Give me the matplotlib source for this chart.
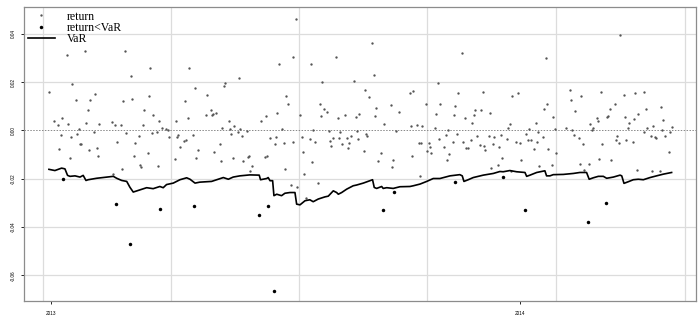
import numpy as np
import matplotlib
matplotlib.use("Agg")
import matplotlib.pyplot as plt
from matplotlib.lines import Line2D

plt.rcParams["axes.unicode_minus"] = False

# x axis is trading-day number (0 = first observation, 2012-12-31)
year_ticks = [1, 253]
year_labels = ["2013", "2014"]
vgrid_days = [-3.2, 65.6, 134.3, 203.1, 272.4, 341.8]
y_ticks = [-0.06, -0.04, -0.02, 0.00, 0.02, 0.04]
y_labels = ["-0.06", "-0.04", "-0.02", "0.00", "0.02", "0.04"]

# daily returns (percent)
ret_day = [
    0.0, 9.5, 19.3, 40.7, 12.4, 54.5, 44.2, 24.7, 14.5, 22.2, 39.9, 44.8, 53.9, 20.8, 51.2, 55.9,
    2.7, 7.0, 5.0, 10.4, 19.9, 26.9, 33.9, 35.5, 38.7, 50.3, 59.3, 16.1, 60.9, 62.9, 63.9, 6.3,
    11.8, 15.2, 24.2, 41.6, 48.2, 55.2, 58.2, 64.3, 16.7, 17.2, 36.5, 46.4, 5.6, 21.5, 25.6, 11.3,
    26.3, 45.5, 53.2, 48.7, 49.4, 58.8, 39.4, 34.6,
    75.2, 102.1, 123.4, 131.4, 132.6, 94.6, 93.9, 78.6, 84.7, 127.5, 73.1, 128.4, 86.9, 89.6, 88.1,
    87.6, 84.2, 122.7, 116.6, 74.5, 68.2, 113.9, 96.5, 99.4, 93.1, 102.6, 97.3, 125.4, 101.4, 106.2,
    98.0, 77.2, 103.5, 69.5, 69.0, 118.6, 122.0, 73.8, 72.4, 131.1, 126.3, 121.4, 91.7, 70.4, 80.1,
    88.8, 107.3, 106.8, 115.9, 117.1, 67.5, 79.2, 98.7, 92.4, 104.2, 108.9, 108.2, 126.8, 130.2,
    133.1, 173.7, 154.4, 140.6, 174.5, 146.9, 164.1, 169.6, 171.8, 193.8, 195.8, 145.6, 147.8, 149.6,
    146.2, 135.1, 159.2, 166.8, 164.8, 155.1, 175.7, 175.2, 183.6, 188.3, 180.0, 194.3, 197.7, 142.0,
    150.3, 156.5, 165.5, 186.3, 135.8, 140.1, 142.9, 152.6, 150.8, 155.8, 157.3, 151.7, 160.0, 161.4,
    160.8, 162.1, 166.2, 170.3, 171.1, 198.8, 199.9, 136.5, 169.1, 178.6, 176.6, 184.7, 195.2, 141.3,
    184.1, 137.2, 144.7, 199.4, 137.9,
    221.9, 267.1, 209.0, 220.0, 233.0, 249.0, 251.8, 202.6, 210.3, 218.0, 228.9, 232.3, 267.8, 266.0,
    208.1, 217.8, 223.5, 228.4, 237.1, 227.5, 247.5, 261.5, 200.4, 207.6, 246.8, 214.4, 257.7, 262.8,
    213.1, 219.2, 229.8, 236.6, 239.3, 242.9, 256.5, 265.6, 209.7, 217.1, 222.6, 226.8, 238.4, 246.3,
    251.1, 253.1, 257.4, 259.0, 262.0, 204.0, 231.8, 233.7, 234.5, 224.3, 225.0, 212.4, 242.0, 204.7,
    203.3, 205.4, 215.1, 213.9, 243.6, 253.8, 268.2, 260.8, 237.7, 241.5, 263.3, 248.2,
    306.8, 280.0, 296.6, 286.0, 280.7, 309.0, 315.1, 319.5, 304.1, 301.3, 282.6, 320.6, 328.9, 316.5,
    300.2, 299.7, 270.8, 294.3, 295.0, 309.5, 314.5, 330.1, 311.5, 290.9, 292.3, 291.6, 278.0, 310.9,
    321.3, 324.7, 334.6, 271.7, 281.2, 319.9, 329.6, 333.7, 281.9, 305.2, 323.3, 325.5, 326.3, 331.0,
    284.8, 304.7, 306.1, 310.2, 313.8, 286.9, 297.2, 272.4, 333.0, 295.7, 302.0, 270.3, 285.3, 290.2,
    287.5, 315.8, 324.2, 328.3,
]
ret_pct = [
    1.61, 3.12, 3.28, 3.28, 1.92, 2.60, 2.25, 1.49, 1.26, 1.26, 1.20, 1.30, 1.41, 0.83, 0.84, 0.66,
    0.39, 0.52, 0.21, 0.28, 0.30, 0.28, 0.33, 0.22, 0.21, 0.21, 0.41, 0.08, 0.11, 0.08, 0.03, -0.17,
    -0.26, -0.14, -0.06, -0.10, -0.25, -0.10, -0.06, -0.28, -0.55, -0.55, -0.48, -0.50, -0.77, -0.81, -0.72, -1.13,
    -1.05, -1.05, -0.95, -1.41, -1.52, -1.49, -1.60, -1.82,
    2.58, 2.17, 2.76, 3.04, 4.61, 1.95, 1.82, 1.75, 1.45, 1.44, 1.23, 1.09, 0.86, 0.72, 0.69,
    0.63, 0.65, 0.72, 0.59, 0.51, 0.41, 0.40, 0.40, 0.19, 0.11, 0.08, 0.06, 0.07, -0.06, -0.03,
    -0.15, -0.18, -0.21, -0.19, -0.26, -0.30, -0.26, -0.39, -0.43, -0.46, -0.50, -0.55, -0.55, -0.69, -0.81,
    -0.91, -1.05, -1.09, -1.10, -1.04, -1.19, -1.16, -1.15, -1.28, -1.27, -1.46, -1.66, -1.59, -2.24,
    -2.36, 3.60, 3.06, 2.77, 2.31, 2.00, 2.04, 1.68, 1.39, 1.53, 1.64, 1.08, 0.88, 0.77,
    0.59, 0.63, 0.65, 0.69, 0.57, 0.52, 0.94, 0.58, 1.04, 0.76, 0.28, 0.18, 0.21, 0.01,
    -0.04, -0.07, -0.03, -0.03, -0.29, -0.37, -0.46, -0.33, -0.44, -0.32, -0.57, -0.63, -0.30, -0.50,
    -0.72, -0.21, -0.34, -0.15, -0.21, -0.50, -0.50, -0.88, -0.86, -0.94, -1.26, -1.23, -1.06, -1.31,
    -1.53, -1.81, -2.19, -1.90, -2.80,
    3.20, 3.01, 1.97, 1.57, 1.58, 1.42, 1.55, 1.08, 1.08, 1.02, 0.86, 0.84, 1.08, 0.90,
    0.68, 0.62, 0.50, 0.63, 0.73, 0.32, 0.28, 0.32, 0.17, 0.11, 0.11, 0.01, 0.04, -0.07,
    -0.18, -0.15, -0.25, -0.25, -0.28, -0.17, -0.14, -0.28, -0.37, -0.46, -0.48, -0.41, -0.55, -0.35,
    -0.48, -0.53, -0.41, -0.39, -0.46, -0.50, -0.62, -0.65, -0.79, -0.72, -0.73, -0.69, -0.68, -0.70,
    -0.87, -0.94, -0.98, -1.23, -1.15, -1.21, -0.77, -0.77, -1.55, -1.42, -1.46, -1.66,
    3.95, 1.66, 1.61, 1.41, 1.28, 1.45, 1.53, 1.61, 1.10, 0.88, 0.79, 0.90, 0.99, 0.70,
    0.59, 0.55, 0.56, 0.50, 0.39, 0.54, 0.46, 0.44, 0.29, 0.26, 0.12, 0.02, 0.12, 0.09,
    0.11, 0.17, 0.14, 0.04, 0.00, -0.06, 0.00, -0.06, -0.18, -0.25, -0.23, -0.29, -0.30, -0.22,
    -0.32, -0.39, -0.52, -0.40, -0.48, -0.58, -0.55, -0.92, -0.90, -1.17, -1.24, -1.42, -1.37, -1.37,
    -1.63, -1.63, -1.66, -1.67,
]

# returns that fell below VaR (percent)
breach_day = [7.5, 35.8, 43.5, 59.8, 77.9, 113.0, 117.9, 120.7, 179.3, 185.6,
              218.3, 244.1, 256.0, 289.6, 299.3]
breach_pct = [-1.99, -3.04, -4.68, -3.26, -3.12, -3.51, -3.13, -6.64, -3.30, -2.53,
              -2.14, -1.93, -3.28, -3.77, -3.01]

# VaR line (percent)
var_day = [
    0, 3.2, 6.8, 8.6, 10.0, 11.3, 14.0, 16.7, 18.4, 19.9, 21.1, 25.6, 34.6, 36.4, 39.1, 41.8,
    43.5, 45.3, 48.9, 52.5, 56.0, 59.6, 61.4, 63.2, 66.8, 70.4, 74.0, 75.8, 78.5, 81.1,
    87.4, 93.7, 96.4, 99.0, 102.6, 108.0, 113.0, 113.7, 117.0, 117.8, 118.8, 120.2, 120.9, 122.4,
    125.0, 126.8, 129.5, 132.2, 133.1, 134.9, 137.6, 140.2, 142.0, 144.7, 148.3, 150.1, 152.8,
    154.6, 155.5, 157.3, 160.0, 163.5, 165.3, 168.9, 172.5, 173.9, 174.8, 176.1, 178.8, 179.6,
    181.5, 185.0, 188.6, 194.0, 195.8, 199.4, 203.0, 206.5, 210.1,
    215.5, 220.8, 222.1, 223.0, 225.3, 228.0, 233.4, 238.8, 242.3, 244.1, 247.7, 251.3, 255.8,
    256.7, 258.5, 262.1, 266.5, 267.4, 269.2, 271.0, 276.4, 281.8, 285.3, 288.9, 290.3, 292.5,
    295.2, 297.9, 299.7, 303.3, 306.9, 307.8, 309.0, 311.4, 314.0, 316.7, 319.4, 323.0, 326.5,
    330.1, 334.6,
]
var_pct = [
    -1.61, -1.66, -1.56, -1.59, -1.86, -1.90, -1.88, -1.93, -1.86, -2.07, -2.04, -1.98, -1.90, -1.98, -2.07, -2.11,
    -2.35, -2.55, -2.46, -2.37, -2.41, -2.32, -2.37, -2.24, -2.18, -2.04, -1.96, -2.02, -2.18, -2.14,
    -2.11, -1.95, -2.02, -1.93, -1.88, -1.84, -1.85, -2.04, -1.99, -1.95, -2.08, -2.08, -2.70, -2.64,
    -2.70, -2.60, -2.57, -2.57, -3.05, -3.08, -2.91, -2.87, -2.95, -2.84, -2.75, -2.72, -2.50,
    -2.57, -2.64, -2.57, -2.43, -2.29, -2.26, -2.18, -2.08, -2.04, -2.36, -2.40, -2.32, -2.40,
    -2.37, -2.40, -2.33, -2.32, -2.29, -2.22, -2.11, -1.99, -1.99,
    -1.88, -1.83, -1.88, -2.11, -2.04, -1.95, -1.85, -1.78, -1.70, -1.71, -1.66, -1.71, -1.74,
    -1.90, -1.85, -1.74, -1.67, -1.88, -1.88, -1.83, -1.82, -1.78, -1.74, -1.74, -2.02, -1.96,
    -1.90, -1.90, -1.98, -1.93, -1.85, -1.88, -2.19, -2.12, -2.04, -2.02, -2.04, -1.95, -1.88,
    -1.81, -1.74,
]

ret = np.array(ret_pct) / 100
breach = np.array(breach_pct) / 100
var = np.array(var_pct) / 100

fig = plt.figure(figsize=(7.0, 3.24), dpi=100)
ax = fig.add_axes([24 / 700, 23 / 324, 672 / 700, 294 / 324])

for d in vgrid_days:
    ax.axvline(d, color="#dcdcdc", lw=0.9, zorder=0)
for t in y_ticks:
    if t != 0:
        ax.axhline(t, color="#dcdcdc", lw=0.9, zorder=0)
ax.axhline(0, color="#888888", lw=0.7, ls=(0, (1.5, 1.5)), zorder=1)

ax.plot(ret_day, ret, ls="", marker="o", ms=1.7, color="#555555", mew=0, zorder=3)
ax.plot(breach_day, breach, ls="", marker="o", ms=2.5, color="black", mew=0, zorder=4)
ax.plot(var_day, var, color="black", lw=1.2, zorder=5)

ax.set_xlim(-13.4, 347.7)
ax.set_ylim(-0.0706, 0.0511)
ax.set_xticks(year_ticks)
ax.set_xticklabels(year_labels)
ax.set_yticks(y_ticks)
ax.set_yticklabels(y_labels, rotation=90, va="center")
ax.tick_params(axis="y", length=2.4, width=0.6, pad=3.5, labelsize=3.4, colors="black")
ax.tick_params(axis="x", length=2.0, width=0.6, pad=5, labelsize=3.4, colors="black")
for lab in ax.get_xticklabels() + ax.get_yticklabels():
    lab.set_family("Liberation Sans")
for s in ax.spines.values():
    s.set_color("#8c8c8c")
    s.set_linewidth(0.9)

handles = [
    Line2D([], [], ls="", marker="o", ms=1.7, color="#555555", mew=0),
    Line2D([], [], ls="", marker="o", ms=2.5, color="black", mew=0),
    Line2D([], [], color="black", lw=1.2),
]
ax.legend(handles, ["return", "return<VaR", "VaR"], loc="upper left",
          bbox_to_anchor=(0.0, 1.0), frameon=False, borderpad=0.1, borderaxespad=0.2,
          handlelength=2.3, handletextpad=1.0, labelspacing=-0.05,
          prop={"family": "Liberation Serif", "size": 8.5})

fig.savefig("out.png", dpi=100)
